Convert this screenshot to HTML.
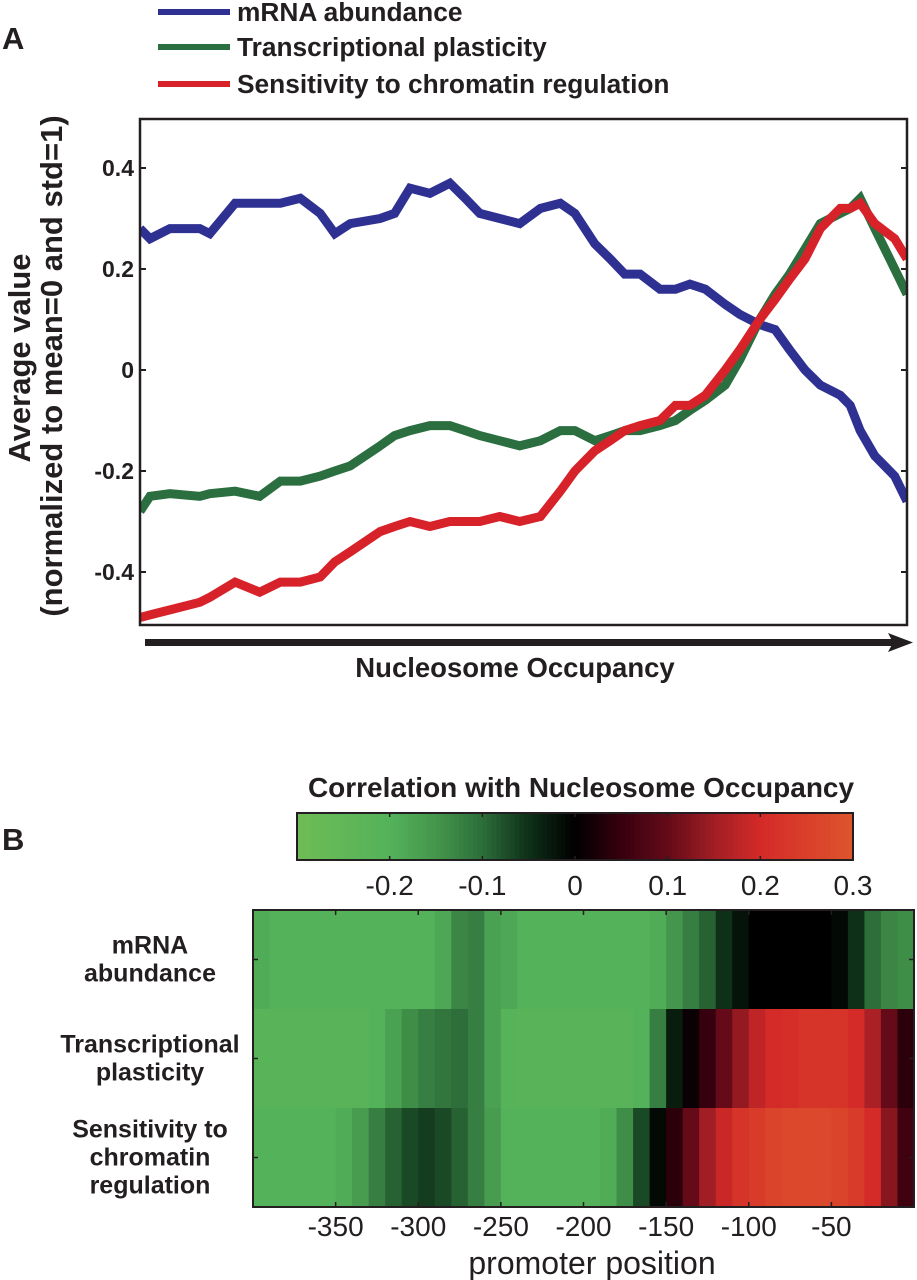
<!DOCTYPE html>
<html><head><meta charset="utf-8">
<style>
html,body{margin:0;padding:0;background:#fff;}
svg{display:block;font-family:"Liberation Sans",Arial,sans-serif;}
.b{font-weight:bold;fill:#231f20;}
.n{fill:#231f20;}
</style></head>
<body>
<svg id="fig" width="917" height="1280" viewBox="0 0 917 1280" xmlns="http://www.w3.org/2000/svg">
  <text class="b" x="2" y="49" font-size="31">A</text>
  <text class="b" x="2" y="850" font-size="31">B</text>
  <g>
    <g><rect x="158" y="9" width="72" height="6" fill="#2e3192"/><text class="b" x="237" y="21" font-size="26.3">mRNA abundance</text></g>
    <g><rect x="158" y="44" width="72" height="6" fill="#2b6e3f"/><text class="b" x="237" y="56" font-size="26.3">Transcriptional plasticity</text></g>
    <g><rect x="158" y="81" width="72" height="6" fill="#d7222a"/><text class="b" x="237" y="93" font-size="26.3">Sensitivity to chromatin regulation</text></g>
  </g>
  <g id="lineplot"></g>
  <g id="heat"></g>
</svg>
<script>
// ---- Panel A data ----
const occRank = [0,1.3,3.9,7.8,9.1,12.4,15.6,18.3,20.9,23.5,25.4,27.4,31.3,33.2,35.2,37.8,40.4,42.4,44.3,46.9,49.5,52.2,54.8,56.7,59.3,61.3,63.2,65.2,67.8,69.8,71.7,73.7,76.3,78.2,80.8,82.8,84.7,86.7,88.7,91.3,92.6,93.9,95.8,98.4,100];
const mrnaVals = [0.28,0.26,0.28,0.28,0.27,0.33,0.33,0.33,0.34,0.31,0.27,0.29,0.30,0.31,0.36,0.35,0.37,0.34,0.31,0.30,0.29,0.32,0.33,0.31,0.25,0.22,0.19,0.19,0.16,0.16,0.17,0.16,0.13,0.11,0.09,0.08,0.04,0.0,-0.03,-0.05,-0.07,-0.12,-0.17,-0.21,-0.26];
const plastVals = [-0.28,-0.25,-0.245,-0.25,-0.245,-0.24,-0.25,-0.22,-0.22,-0.21,-0.20,-0.19,-0.15,-0.13,-0.12,-0.11,-0.11,-0.12,-0.13,-0.14,-0.15,-0.14,-0.12,-0.12,-0.14,-0.13,-0.12,-0.12,-0.11,-0.10,-0.08,-0.06,-0.03,0.02,0.10,0.15,0.19,0.24,0.29,0.31,0.32,0.34,0.28,0.20,0.15];
const chromVals = [-0.49,-0.485,-0.475,-0.46,-0.45,-0.42,-0.44,-0.42,-0.42,-0.41,-0.38,-0.36,-0.32,-0.31,-0.30,-0.31,-0.30,-0.30,-0.30,-0.29,-0.30,-0.29,-0.24,-0.20,-0.16,-0.14,-0.12,-0.11,-0.10,-0.07,-0.07,-0.05,0.0,0.04,0.10,0.14,0.18,0.22,0.28,0.32,0.32,0.33,0.29,0.26,0.22];
const yTicks = [0.4,0.2,0,-0.2,-0.4];
const yTickLabels = ["0.4","0.2","0","-0.2","-0.4"];

// ---- Panel B data ----
const rowLabels = [["mRNA","abundance"],["Transcriptional","plasticity"],["Sensitivity to","chromatin","regulation"]];
const positions = [-395,-385,-375,-365,-355,-345,-335,-325,-315,-305,-295,-285,-275,-265,-255,-245,-235,-225,-215,-205,-195,-185,-175,-165,-155,-145,-135,-125,-115,-105,-95,-85,-75,-65,-55,-45,-35,-25,-15,-5];
const corrMrna = [-0.19,-0.2,-0.2,-0.2,-0.2,-0.2,-0.2,-0.2,-0.2,-0.2,-0.2,-0.18,-0.13,-0.12,-0.17,-0.18,-0.2,-0.2,-0.2,-0.2,-0.2,-0.2,-0.2,-0.2,-0.19,-0.15,-0.12,-0.09,-0.05,-0.02,0,0,0,0,0,-0.01,-0.05,-0.1,-0.13,-0.14];
const corrPlast = [-0.22,-0.22,-0.22,-0.22,-0.22,-0.22,-0.22,-0.2,-0.17,-0.14,-0.12,-0.11,-0.1,-0.12,-0.17,-0.21,-0.22,-0.22,-0.22,-0.22,-0.22,-0.22,-0.22,-0.2,-0.12,-0.03,0.01,0.05,0.1,0.14,0.18,0.2,0.21,0.22,0.22,0.22,0.2,0.16,0.1,0.04];
const corrChrom = [-0.2,-0.2,-0.2,-0.2,-0.2,-0.19,-0.16,-0.12,-0.09,-0.07,-0.06,-0.07,-0.09,-0.12,-0.16,-0.2,-0.2,-0.2,-0.2,-0.2,-0.2,-0.19,-0.14,-0.07,-0.01,0.04,0.1,0.15,0.19,0.22,0.24,0.26,0.27,0.27,0.27,0.26,0.24,0.2,0.13,0.06];
const xTickVals = [-350,-300,-250,-200,-150,-100,-50];
const cbTickVals = [-0.2,-0.1,0,0.1,0.2,0.3];
const cbTickLabels = ["-0.2","-0.1","0","0.1","0.2","0.3"];

const NS = "http://www.w3.org/2000/svg";
function mk(tag, attrs, parent){ const e=document.createElementNS(NS,tag); for(const k in attrs) e.setAttribute(k,attrs[k]); parent.appendChild(e); return e; }

// ---- Panel A drawing ----
const A = document.getElementById('lineplot');
const pL=140,pR=907,pT=119,pB=625;
const xA = r => pL + (r/100)*(pR-pL);
const yA = v => 370 - v*505;
const seriesList = [[mrnaVals,'#2e3192','line-mrna'],[plastVals,'#2b6e3f','line-plasticity'],[chromVals,'#d7222a','line-chromatin']];
const clip = mk('clipPath',{id:'pclip'},A); mk('rect',{x:pL,y:pT,width:pR-pL,height:pB-pT},clip);
seriesList.forEach(s=>{
  const d = s[0].map((v,i)=>(i?'L':'M')+xA(occRank[i]).toFixed(1)+' '+yA(v).toFixed(1)).join(' ');
  const p = mk('path',{d:d,fill:'none',stroke:s[1],'stroke-width':9,'stroke-linejoin':'miter','stroke-miterlimit':3,'clip-path':'url(#pclip)'},A);
  
  
});
const frame = mk('rect',{x:pL,y:pT,width:pR-pL,height:pB-pT,fill:'none',stroke:'#231f20','stroke-width':2.5},A);


yTicks.forEach((t,i)=>{
  mk('line',{x1:pL,x2:pL+6,y1:yA(t),y2:yA(t),stroke:'#231f20','stroke-width':2},A);
  mk('line',{x1:pR-6,x2:pR,y1:yA(t),y2:yA(t),stroke:'#231f20','stroke-width':2},A);
  const tx = mk('text',{x:pL-6,y:yA(t)+8,'text-anchor':'end','font-size':23,class:'b'},A);
  tx.textContent = yTickLabels[i];
  
  
});
const yt = mk('text',{x:0,y:0,'text-anchor':'middle','font-size':31,class:'b',transform:'translate(30 358) rotate(-90)'},A);


yt.textContent='Average value';
const yt2 = mk('text',{x:0,y:0,'text-anchor':'middle','font-size':31,class:'b',transform:'translate(62 366) rotate(-90)'},A);


yt2.textContent='(normalized to mean=0 and std=1)';
const arr = mk('g',{},A);


mk('rect',{x:145,y:639,width:750,height:7,fill:'#231f20'},arr);
mk('polygon',{points:'888,633 913,642.5 888,652 893,642.5',fill:'#231f20'},arr);
const xt = mk('text',{x:515,y:677,'text-anchor':'middle','font-size':27.5,class:'b'},A);


xt.textContent='Nucleosome Occupancy';

// ---- Panel B drawing ----
const H = document.getElementById('heat');
const stops = [[-0.3,[110,188,85]],[-0.2,[84,178,90]],[-0.15,[68,150,76]],[-0.1,[45,110,58]],[-0.05,[14,48,24]],[0,[0,0,0]],[0.05,[55,0,14]],[0.1,[100,10,24]],[0.15,[160,30,36]],[0.2,[212,42,40]],[0.3,[222,85,45]]];
function cmap(v){
  v=Math.max(-0.3,Math.min(0.3,v));
  for(let i=0;i<stops.length-1;i++){
    const a=stops[i],b=stops[i+1];
    if(v<=b[0]){const t=(v-a[0])/(b[0]-a[0]);return 'rgb('+a[1].map((c,k)=>Math.round(c+(b[1][k]-c)*t)).join(',')+')';}
  }
  return 'rgb(222,85,45)';
}
// colorbar
const cbL=297,cbR=853,cbT=813,cbB=860;
const xCb = v => cbL + (v+0.3)/0.6*(cbR-cbL);
const cbt = mk('text',{x:581,y:797,'text-anchor':'middle','font-size':28,class:'b'},H);


cbt.textContent='Correlation with Nucleosome Occupancy';
const cbg = mk('g',{},H);


for(let k=0;k<120;k++){
  const v=-0.3+k*0.005;
  mk('rect',{x:xCb(v),y:cbT,width:(cbR-cbL)/120+0.6,height:cbB-cbT,fill:cmap(v+0.0025)},cbg);
}
mk('rect',{x:cbL,y:cbT,width:cbR-cbL,height:cbB-cbT,fill:'none',stroke:'#231f20','stroke-width':2},cbg);
cbTickVals.forEach((t,i)=>{
  mk('line',{x1:xCb(t),x2:xCb(t),y1:cbT,y2:cbT+4,stroke:'#231f20','stroke-width':1.5},cbg);
  mk('line',{x1:xCb(t),x2:xCb(t),y1:cbB-4,y2:cbB,stroke:'#231f20','stroke-width':1.5},cbg);
  const tl = mk('text',{x:xCb(t),y:895,'text-anchor':'middle','font-size':28,class:'n'},H);
  tl.textContent=cbTickLabels[i];
  
  
});
// heatmap
const hL=253,hR=914,hT=910,hB=1207;
const xH = p => hL + (p+400)/400*(hR-hL);
const rowH=(hB-hT)/3;
const rows=[corrMrna,corrPlast,corrChrom];
const rowNames=['heatmap-row-mrna','heatmap-row-plasticity','heatmap-row-chromatin'];
rows.forEach((vals,r)=>{
  const g = mk('g',{},H);
  
  
  vals.forEach((v,i)=>{
    const c = mk('rect',{x:xH(positions[i]-5),y:hT+r*rowH,width:xH(positions[i]+5)-xH(positions[i]-5)+0.6,height:rowH+0.5,fill:cmap(v)},g);
    
    
  });
  const yc=hT+(r+0.5)*rowH;
  mk('line',{x1:hL,x2:hL+5,y1:yc,y2:yc,stroke:'#231f20','stroke-width':1.5},H);
  mk('line',{x1:hR-5,x2:hR,y1:yc,y2:yc,stroke:'#231f20','stroke-width':1.5},H);
  const lines=rowLabels[r];
  const lt = mk('text',{x:150,'text-anchor':'middle','font-size':25,class:'b'},H);
  
  
  lines.forEach((s,j)=>{
    const ts=mk('tspan',{x:150,y:yc+8+(j-(lines.length-1)/2)*28},lt);
    ts.textContent=s;
  });
});
const hf = mk('rect',{x:hL,y:hT,width:hR-hL,height:hB-hT,fill:'none',stroke:'#231f20','stroke-width':2},H);


xTickVals.forEach(t=>{
  mk('line',{x1:xH(t),x2:xH(t),y1:hT,y2:hT+5,stroke:'#231f20','stroke-width':1.5},H);
  mk('line',{x1:xH(t),x2:xH(t),y1:hB-5,y2:hB,stroke:'#231f20','stroke-width':1.5},H);
  const tl = mk('text',{x:xH(t),y:1236,'text-anchor':'middle','font-size':28,class:'n'},H);
  tl.textContent=String(t);
  
  
});
const pp = mk('text',{x:592,y:1274,'text-anchor':'middle','font-size':32,class:'n'},H);


pp.textContent='promoter position';
</script>
</body></html>
